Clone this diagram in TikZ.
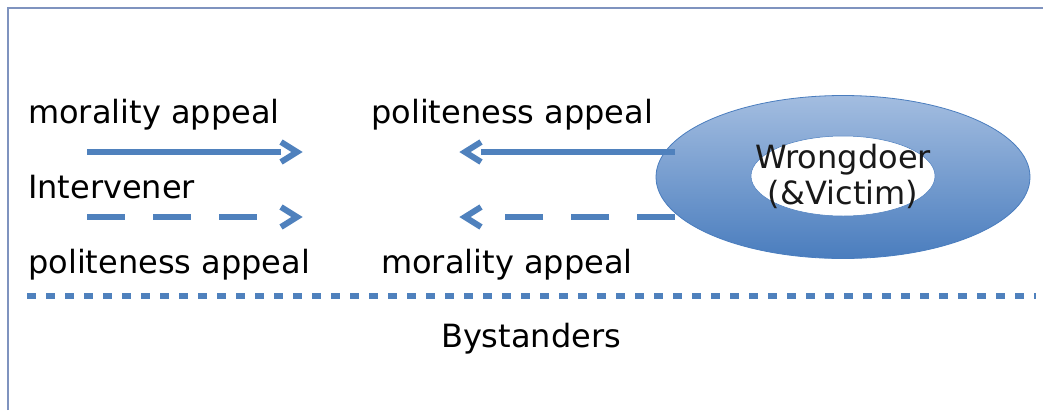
\documentclass[tikz,border=0pt]{standalone}
\usepackage{fontspec}
\setmainfont{DejaVu Sans}
\usetikzlibrary{shapes.geometric}
\definecolor{appealblue}{HTML}{4F81BD}
\definecolor{framegray}{HTML}{7F93BF}
\definecolor{topblue}{HTML}{A3BDE0}
\definecolor{botblue}{HTML}{4A7DBE}

\tikzset{
  lbl/.style={anchor=base west,inner sep=0pt,font=\fontsize{32}{36}\selectfont},
  appeal/.style={draw=appealblue,line width=6pt,shorten >=16pt},
  polite/.style={appeal,dash pattern=on 38pt off 28pt},
  barb/.style={draw=appealblue,line width=6pt,line join=miter}
}

\begin{document}
\begin{tikzpicture}[x=1pt,y=-1pt]
\useasboundingbox (0,0) rectangle (1043,410);
\draw[framegray,line width=1.2pt] (8,410) -- (8,8) -- (1043,8);

\node[lbl] (MA1) at (28,123) {morality appeal};
\node[lbl] (PA1) at (371,123) {politeness appeal};
\node[lbl] (I) at (28,198) {Intervener};
\node[lbl] (PA2) at (28,273) {politeness appeal};
\node[lbl] (MA2) at (381,273) {morality appeal};
\node[lbl,anchor=base] (B) at (531,347) {Bystanders};

\node[shape=ellipse,draw=botblue,line width=0.8pt,top color=topblue,bottom color=botblue,
  minimum width=374pt,minimum height=163pt] (W) at (843,177) {};
\node[shape=ellipse,fill=white,draw=botblue,line width=0.5pt,inner sep=0pt,
  minimum width=184pt,minimum height=80pt] (V) at (843,176) {};
\node[align=center,inner sep=0pt,font=\fontsize{32}{36}\selectfont,text=black!90] (Wt) at (843,176) {Wrongdoer\\(\&Victim)};

\coordinate (A) at (87,152);
\coordinate (Ae) at (297,152);
\coordinate (C) at (87,217);
\coordinate (Ce) at (297,217);
\coordinate (D) at (675,152);
\coordinate (De) at (465,152);
\coordinate (E) at (675,217);
\coordinate (Ee) at (465,217);

\draw[appeal] (A) -- (Ae);
\draw[polite] (C) -- (Ce);
\draw[appeal] (D) -- (De);
\draw[polite] (E) -- (Ee);

% open arrow heads
\draw[barb] (Ae) ++(-16,-10) -- (Ae) -- ++(-16,10);
\draw[barb] (Ce) ++(-16,-10) -- (Ce) -- ++(-16,10);
\draw[barb] (De) ++(16,-10) -- (De) -- ++(16,10);
\draw[barb] (Ee) ++(16,-10) -- (Ee) -- ++(16,10);

\draw[appealblue,line width=5.5pt,dash pattern=on 9.3pt off 9.7pt] (27,296) -- (1036,296);
\end{tikzpicture}
\end{document}
